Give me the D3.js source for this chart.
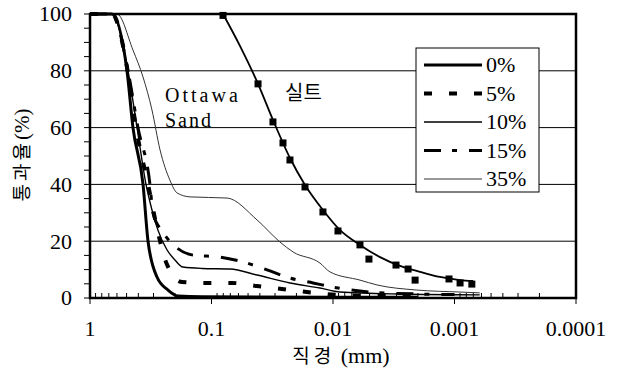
<!DOCTYPE html>
<html>
<head>
<meta charset="utf-8">
<script src="https://cdn.jsdelivr.net/npm/d3@7"></script>
<style>
  body { margin: 0; background: #fff; }
  svg { display: block; }
  .serif { font-family: "Liberation Serif", "Times New Roman", "DejaVu Serif", serif; }
  .kr { font-family: "Noto Sans CJK KR", sans-serif; }
</style>
</head>
<body>
<svg></svg>
<script>
// [diameter mm, percent passing]
const sand0 = [[1, 100], [0.66, 100], [0.496, 80], [0.443, 60], [0.366, 40], [0.333, 20],
  [0.281, 7.4], [0.228, 2.8], [0.189, 0.7], [0.12, 0.4], [0.01, 0.3], [0.002, 0.3]];
const sand5 = [[1, 100], [0.66, 100], [0.49, 80], [0.418, 60], [0.333, 40], [0.265, 20],
  [0.237, 12.7], [0.175, 5.6], [0.109, 5.3], [0.0678, 5.3], [0.0422, 4.2], [0.0263, 3.2],
  [0.0164, 2.1], [0.0091, 1.1], [0.004, 0.7], [0.002, 0.5]];
const sand10 = [[1, 100], [0.66, 100], [0.487, 80], [0.41, 60], [0.346, 40], [0.309, 31],
  [0.276, 23.9], [0.232, 16.9], [0.2, 13.4], [0.172, 10.9], [0.12, 10.4], [0.0704, 10.2],
  [0.0422, 8.1], [0.0226, 5.3], [0.0128, 3.5], [0.00875, 2.1], [0.0028, 1.4], [0.00062, 1.1]];
const sand15 = [[1, 100], [0.66, 100], [0.487, 80], [0.403, 60], [0.321, 40], [0.303, 29.9],
  [0.251, 23.2], [0.192, 17.6], [0.142, 15.1], [0.085, 14.4], [0.0551, 12.7], [0.0349, 9.9],
  [0.0226, 7.0], [0.0146, 5.3], [0.0091, 3.5], [0.00496, 2.1], [0.00192, 1.4], [0.001, 1.2]];
const sand35 = [[1, 100], [0.6, 100], [0.443, 87.3], [0.366, 77.8], [0.309, 66.2], [0.265, 52.1],
  [0.22, 41.5], [0.192, 37], [0.15, 35.6], [0.0745, 35.2], [0.0422, 27.5], [0.0273, 19.7],
  [0.0213, 16.2], [0.0128, 12.3], [0.0106, 9.2], [0.006, 6.3], [0.00435, 4.6], [0.00204, 2.8],
  [0.0009, 2.1], [0.00062, 1.8]];

// silt: measured points and the drawn fit curve
const siltPoints = [[0.0804, 99.5], [0.0414, 75.4], [0.0312, 62.0], [0.0258, 54.6], [0.0226, 48.6],
  [0.0170, 39.1], [0.0121, 30.3], [0.0091, 23.6], [0.0060, 18.7], [0.00506, 13.7], [0.00303, 11.6],
  [0.00241, 10.2], [0.00211, 6.3], [0.00111, 6.7], [0.00090, 5.3], [0.00072, 4.9]];
const siltFit = [[0.0804, 100], [0.0582, 88.7], [0.0414, 75.4], [0.0312, 62.7], [0.0226, 49.3],
  [0.0170, 39.8], [0.0121, 31.0], [0.00875, 23.9], [0.0060, 18.7], [0.0041, 14.4], [0.00281, 11.3],
  [0.00192, 9.2], [0.00132, 7.4], [0.0009, 6.3], [0.000704, 6.0]];

const legendLabels = ["0%", "5%", "10%", "15%", "35%"];
const xTicks = [1, 0.1, 0.01, 0.001, 0.0001];
const xTickLabels = ["1", "0.1", "0.01", "0.001", "0.0001"];
const yTicks = [0, 20, 40, 60, 80, 100];

const width = 622;
const height = 374;
const plot = { left: 90, right: 576, top: 14, bottom: 298 };

const svg = d3.select("svg").attr("width", width).attr("height", height);

const x = d3.scaleLog().domain([1, 0.0001]).range([plot.left, plot.right]);
const y = d3.scaleLinear().domain([0, 100]).range([plot.bottom, plot.top]);

// grid
svg.append("g")
  .selectAll("line")
  .data([20, 40, 60, 80])
  .join("line")
  .attr("x1", plot.left).attr("x2", plot.right)
  .attr("y1", (d) => y(d)).attr("y2", (d) => y(d))
  .attr("stroke", "#000").attr("stroke-width", 1);

// minor ticks
svg.append("g")
  .selectAll("line")
  .data(d3.range(0, 101, 5))
  .join("line")
  .attr("x1", plot.left - 6).attr("x2", plot.left)
  .attr("y1", (d) => y(d)).attr("y2", (d) => y(d))
  .attr("stroke", "#000").attr("stroke-width", 1);

const xMinor = [];
[1, 0.1, 0.01, 0.001].forEach((dec) => {
  for (let k = 2; k <= 9; k++) xMinor.push((dec / 10) * k);
});
svg.append("g")
  .selectAll("line")
  .data(xMinor)
  .join("line")
  .attr("x1", (d) => x(d)).attr("x2", (d) => x(d))
  .attr("y1", plot.bottom).attr("y2", plot.bottom - 5)
  .attr("stroke", "#000").attr("stroke-width", 1);

svg.append("g")
  .selectAll("line")
  .data(xTicks)
  .join("line")
  .attr("x1", (d) => x(d)).attr("x2", (d) => x(d))
  .attr("y1", plot.bottom).attr("y2", plot.bottom + 6)
  .attr("stroke", "#000").attr("stroke-width", 1);

// tick labels
svg.append("g")
  .selectAll("text")
  .data(yTicks)
  .join("text")
  .attr("class", "serif")
  .attr("x", 72).attr("y", (d) => y(d))
  .attr("dy", "0.34em")
  .attr("text-anchor", "end")
  .attr("font-size", 22)
  .text((d) => d);

svg.append("g")
  .selectAll("text")
  .data(xTicks)
  .join("text")
  .attr("class", "serif")
  .attr("x", (d) => x(d)).attr("y", 336)
  .attr("text-anchor", "middle")
  .attr("font-size", 22)
  .text((d, i) => xTickLabels[i]);

// axis titles
const yTitle = svg.append("text")
  .attr("transform", "translate(29,155) rotate(-90)")
  .attr("text-anchor", "middle")
  .attr("font-size", 19);
yTitle.append("tspan").attr("class", "kr").attr("letter-spacing", 3).text("통과율");
yTitle.append("tspan").attr("class", "serif").attr("font-size", 21).text("(%)");

const xTitle = svg.append("text")
  .attr("x", 341).attr("y", 363)
  .attr("text-anchor", "middle")
  .attr("font-size", 19);
xTitle.append("tspan").attr("class", "kr").attr("letter-spacing", 4).text("직경");
xTitle.append("tspan").attr("class", "serif").attr("font-size", 22).text(" (mm)");

// curves
const line = d3.line()
  .x((d) => x(d[0]))
  .y((d) => y(d[1]))
  .curve(d3.curveMonotoneX);

const styles = [
  { data: sand0, w: 3, dash: null, color: "#000" },
  { data: sand5, w: 4, dash: "8,17", color: "#000" },
  { data: sand10, w: 1.4, dash: null, color: "#000" },
  { data: sand15, w: 3, dash: "17,11,5,12", color: "#000" },
  { data: sand35, w: 1, dash: null, color: "#333" },
];

svg.append("g")
  .attr("fill", "none")
  .selectAll("path")
  .data(styles)
  .join("path")
  .attr("d", (s) => line(s.data))
  .attr("stroke", (s) => s.color)
  .attr("stroke-width", (s) => s.w)
  .attr("stroke-dasharray", (s) => s.dash);

svg.append("path")
  .attr("d", line(siltFit))
  .attr("fill", "none")
  .attr("stroke", "#000")
  .attr("stroke-width", 1.8);

svg.append("g")
  .selectAll("rect")
  .data(siltPoints)
  .join("rect")
  .attr("x", (d) => x(d[0]) - 3.5)
  .attr("y", (d) => y(d[1]) - 3.5)
  .attr("width", 7).attr("height", 7)
  .attr("fill", "#000");

// frame
svg.append("rect")
  .attr("x", plot.left).attr("y", plot.top)
  .attr("width", plot.right - plot.left).attr("height", plot.bottom - plot.top)
  .attr("fill", "none").attr("stroke", "#000").attr("stroke-width", 2.5);

// annotations
svg.append("text")
  .attr("class", "serif")
  .attr("x", 165).attr("y", 102)
  .attr("font-size", 20)
  .attr("letter-spacing", 3)
  .text("Ottawa");
svg.append("text")
  .attr("class", "serif")
  .attr("x", 165).attr("y", 127)
  .attr("font-size", 20)
  .attr("letter-spacing", 2)
  .text("Sand");
svg.append("text")
  .attr("class", "kr")
  .attr("x", 285).attr("y", 100)
  .attr("font-size", 20)
  .text("실트");

// legend
const legend = svg.append("g");
legend.append("rect")
  .attr("x", 416).attr("y", 48)
  .attr("width", 123).attr("height", 144)
  .attr("fill", "#fff").attr("stroke", "#000").attr("stroke-width", 1);

const rowY = d3.scalePoint().domain(legendLabels).range([65, 179]);
const rows = legend.selectAll("g.row")
  .data(styles)
  .join("g")
  .attr("class", "row");
rows.append("line")
  .attr("x1", 424).attr("x2", 482)
  .attr("y1", (s, i) => rowY(legendLabels[i]))
  .attr("y2", (s, i) => rowY(legendLabels[i]))
  .attr("stroke", (s) => s.color)
  .attr("stroke-width", (s) => s.w)
  .attr("stroke-dasharray", (s) => s.dash);
rows.append("text")
  .attr("class", "serif")
  .attr("x", 486)
  .attr("y", (s, i) => rowY(legendLabels[i]))
  .attr("dy", "0.34em")
  .attr("font-size", 22)
  .text((s, i) => legendLabels[i]);
</script>
</body>
</html>
